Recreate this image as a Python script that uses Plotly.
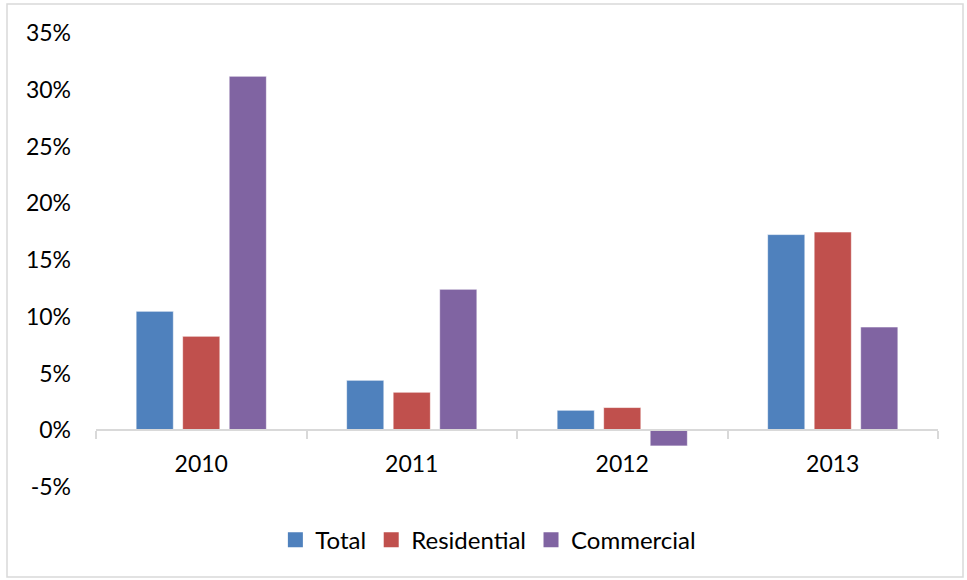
import plotly.graph_objects as go

years = ["2010", "2011", "2012", "2013"]
total = [0.1048, 0.044, 0.0176, 0.1724]
residential = [0.0828, 0.0335, 0.020, 0.1747]
commercial = [0.3119, 0.1242, -0.0138, 0.091]
y_ticks = [-0.05, 0, 0.05, 0.10, 0.15, 0.20, 0.25, 0.30, 0.35]
y_tick_labels = ["-5%", "0%", "5%", "10%", "15%", "20%", "25%", "30%", "35%"]
series_names = ["Total", "Residential", "Commercial"]
series_colors = ["#4F81BD", "#C0504D", "#8064A2"]

font_family = "Lato, Open Sans, sans-serif"

fig = go.Figure()
for name, vals, col in zip(series_names, [total, residential, commercial], series_colors):
    fig.add_trace(go.Bar(x=years, y=vals, name=name, showlegend=False,
                         marker=dict(color=col, line=dict(color="rgba(255,255,255,0.6)", width=1))))
# legend entries with larger square swatches
for name, col in zip(series_names, series_colors):
    fig.add_trace(go.Scatter(x=[None], y=[None], mode="markers", name=name,
                             marker=dict(symbol="square", size=15, color=col)))

fig.update_layout(
    width=967, height=580,
    margin=dict(l=96, r=29, t=33, b=93, autoexpand=False),
    paper_bgcolor="white", plot_bgcolor="white",
    barmode="group", bargap=0.337, bargroupgap=0.2,
    font=dict(family=font_family, size=23, color="#000000"),
    showlegend=True,
    legend=dict(orientation="h", x=0.466, xanchor="center", y=-0.117, yanchor="middle",
                font=dict(size=24), itemwidth=30, traceorder="normal"),
    xaxis=dict(type="category", anchor="free", position=0.125,
               showline=True, linecolor="#D9D9D9", linewidth=2,
               ticks="outside", tickson="boundaries", ticklen=8, tickcolor="#D9D9D9", tickwidth=2,
               ticklabelstandoff=13,
               showgrid=False, zeroline=False, tickfont=dict(size=23)),
    yaxis=dict(range=[-0.05, 0.35], tickvals=y_ticks, ticktext=y_tick_labels,
               showgrid=False, zeroline=False, showline=False,
               ticklabelstandoff=24, tickfont=dict(size=23)),
)

fig.add_shape(type="rect", xref="paper", yref="paper",
              x0=-89/842, x1=(963-96)/842, y0=-(577-487)/454, y1=(487-4)/454,
              line=dict(color="#D9D9D9", width=1.5), fillcolor="rgba(0,0,0,0)", layer="below")

fig.write_html("out.html")
